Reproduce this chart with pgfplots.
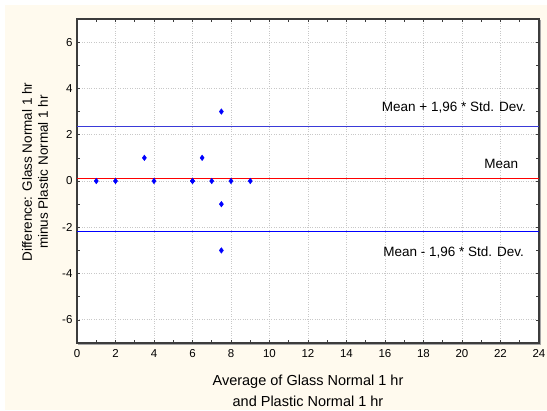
\documentclass[border=0pt]{standalone}
\usepackage{pgfplots}
\pgfplotsset{compat=1.18}
\usetikzlibrary{calc}
\usepackage{fontspec}
\setmainfont{Liberation Sans}
\definecolor{cream}{HTML}{FFFAEE}
\definecolor{framec}{HTML}{3C3C3C}
\definecolor{gridc}{HTML}{C8C8C8}
\definecolor{upperc}{HTML}{3A3AD8}
\begin{document}
\begin{tikzpicture}
\useasboundingbox (-77pt,-68pt) rectangle (470pt,343pt);
\fill[white] (-77pt,-68pt) rectangle (470pt,343pt);
\fill[cream] (-72pt,-67pt) rectangle (470pt,338pt);
\begin{axis}[
    at={(0pt,0pt)}, anchor=south west,
    scale only axis, width=462pt, height=324pt,
    xmin=0, xmax=24, ymin=-7, ymax=7,
    xtick={0,2,...,24}, ytick={-6,-4,...,6},
    minor tick num=1,
    tick align=inside,
    major tick length=3pt, minor tick length=3pt,
    tick style={framec, line width=0.6pt},
    grid=major,
    major grid style={gridc, dotted, line width=0.8pt},
    axis background/.style={fill=white},
    axis line style={framec, line width=1.1pt},
    /pgf/number format/assume math mode=true,
    ticklabel style={font=\fontsize{11.5}{13}\selectfont},
    xticklabel style={yshift=-3pt},
    yticklabel style={xshift=-1pt},
    xlabel={Average of Glass Normal 1 hr\\and Plastic Normal 1 hr},
    xlabel style={at={(axis description cs:0.5,-0.147)}, anchor=center, align=center,
        font=\fontsize{14.5}{21}\selectfont},
    ylabel={Difference: Glass Normal 1 hr\\minus Plastic Normal 1 hr},
    ylabel style={at={(axis description cs:-0.091,0.528)}, anchor=center, align=center,
        font=\fontsize{13.5}{16}\selectfont},
    clip=false,
]
% limits of agreement and mean difference
\addplot[upperc, line width=1pt] coordinates {(0,2.37) (24,2.37)};
\addplot[red, line width=1pt] coordinates {(0,0.11) (24,0.11)};
\addplot[draw=blue, line width=1pt] coordinates {(0,-2.18) (24,-2.18)};
% differences
\addplot[only marks, mark=diamond*, mark size=2.8pt, color=blue] table {
x y
1 0
2 0
3.5 1
4 0
6 0
6 0
6.5 1
7 0
7.5 3
7.5 -1
7.5 -3
8 0
9 0
};
\node[anchor=east, font=\fontsize{13.5}{16}\selectfont] at (axis cs:23.5,3.19) {Mean + 1,96 * Std. Dev.};
\node[anchor=east, font=\fontsize{13.5}{16}\selectfont] at (axis cs:23.1,0.73) {Mean};
\node[anchor=east, font=\fontsize{13.5}{16}\selectfont] at (axis cs:23.4,-3.1) {Mean - 1,96 * Std. Dev.};
\draw[gray!70, line width=1pt] ($(rel axis cs:1,1)+(1.3pt,-1pt)$) -- ($(rel axis cs:1,0)+(1.3pt,-1.3pt)$) -- ($(rel axis cs:0,0)+(1pt,-1.3pt)$);
\end{axis}
\end{tikzpicture}
\end{document}
